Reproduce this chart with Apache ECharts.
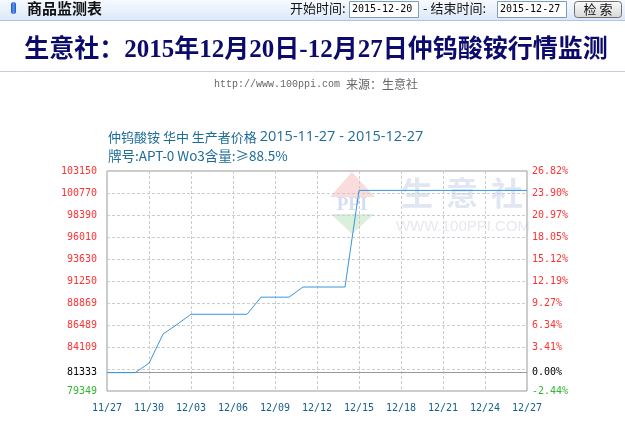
<!DOCTYPE html>
<html>
<head>
<meta charset="utf-8">
<script src="https://cdn.jsdelivr.net/npm/echarts@6/dist/echarts.min.js"></script>
<style>
html,body{margin:0;padding:0;background:#fff;}
#chart{width:625px;height:425px;}
</style>
</head>
<body>
<div id="chart"></div>
<script>
// ---- data ----
const dates = ['11/27','11/28','11/29','11/30','12/01','12/02','12/03','12/04','12/05','12/06','12/07',
  '12/08','12/09','12/10','12/11','12/12','12/13','12/14','12/15','12/16','12/17','12/18','12/19',
  '12/20','12/21','12/22','12/23','12/24','12/25','12/26','12/27'];
const prices = [81333,81333,81333,82350,85500,86550,87650,87650,87650,87650,87650,
  89500,89500,89500,90600,90600,90600,90600,101050,101050,101050,101050,101050,
  101050,101050,101050,101050,101050,101050,101050,101050];
const baseValue = 81333;
const yMin = 79349;
const yMax = 103150;
const yLabelValues = [79349,81333,84109,86489,88869,91250,93630,96010,98390,100770,103150];
const pctLabels = ['-2.44%','0.00%','3.41%','6.34%','9.27%','12.19%','15.12%','18.05%','20.97%','23.90%','26.82%'];
const yGridValues = [81729.1,84109,86489,88869,91250,93630,96010,98390,100770];

const chart = echarts.init(document.getElementById('chart'), null, {renderer:'canvas'});

function labelColor(v){
  v = Number(v);
  if (v > baseValue) return '#ff3333';
  if (v < baseValue) return '#33b533';
  return '#000000';
}

const monoFont = "'DejaVu Sans Mono', monospace";

const subRich = {
  c:{fontFamily:"'Noto Sans CJK SC'", fontSize:13, fill:'#1d6b9a', lineHeight:18, verticalAlign:'middle'},
  l:{fontFamily:"'Open Sans', 'Noto Sans CJK SC'", fontSize:14.5, fill:'#1d6b9a', lineHeight:18, verticalAlign:'middle'}
};

const option = {
  animation: false,
  backgroundColor: '#ffffff',
  grid: {left:107, top:171, width:420, height:220, show:true, borderColor:'#999999', borderWidth:1, backgroundColor:'transparent'},
  xAxis: {
    type:'category', data: dates, boundaryGap:false,
    axisLine:{show:false}, axisTick:{show:false},
    axisLabel:{interval:2, margin:12, color:'#14608f', fontSize:10, fontFamily:monoFont},
    splitLine:{show:true, interval:2, lineStyle:{color:'#cccccc', type:[3,2], width:1}}
  },
  yAxis: [
    {
      type:'value', min:yMin, max:yMax, position:'left',
      axisLine:{show:false}, axisTick:{show:false, customValues: yLabelValues}, splitLine:{show:false},
      axisLabel:{customValues: yLabelValues, margin:10, fontSize:10, fontFamily:monoFont,
        color: labelColor, formatter: v => String(v)}
    },
    {
      type:'value', min:yMin, max:yMax, position:'right',
      axisLine:{show:false}, axisTick:{show:false, customValues: yLabelValues}, splitLine:{show:false},
      axisLabel:{customValues: yLabelValues, margin:5, fontSize:10, fontFamily:monoFont,
        color: labelColor,
        formatter: v => { const i = yLabelValues.indexOf(Number(v)); return i >= 0 ? pctLabels[i] : ''; }}
    }
  ],
  series: [
    {
      type:'line', data: prices, symbol:'none', silent:true,
      lineStyle:{opacity:0}, z:1,
      markLine:{
        silent:true, symbol:['none','none'], label:{show:false}, animation:false, z:1,
        data: yGridValues.map(v => ({yAxis:v, lineStyle:{color:'#cccccc', type:[3,2], width:1}}))
          .concat([{yAxis: baseValue, lineStyle:{color:'#999999', type:'solid', width:1}}])
      }
    },
    {
      type:'line', data: prices, symbol:'none', silent:true, z:10,
      lineStyle:{color:'#3a96dc', width:1}
    }
  ],
  graphic: [
    // header bar
    {type:'rect', shape:{x:0,y:0,width:625,height:20}, z:-2,
      style:{fill:new echarts.graphic.LinearGradient(0,0,0,1,[{offset:0,color:'#f7faff'},{offset:1,color:'#dce8f8'}])}},
    {type:'line', shape:{x1:0,y1:20.5,x2:625,y2:20.5}, style:{stroke:'#a9c4ef', lineWidth:1}},
    {type:'rect', shape:{x:11,y:2,width:5,height:12,r:2.5},
      style:{fill:new echarts.graphic.LinearGradient(0,0,1,0,[{offset:0,color:'#1d57c8'},{offset:0.5,color:'#5b93ee'},{offset:1,color:'#1d57c8'}])}},
    {type:'text', x:27, y:8, style:{text:'商品监测表', font:"bold 15px 'Noto Sans CJK SC'", fill:'#111111', verticalAlign:'middle'}},
    {type:'text', x:290, y:8, style:{text:'开始时间:', font:"13px 'Noto Sans CJK SC'", fill:'#111111', verticalAlign:'middle'}},
    {type:'rect', shape:{x:349.5,y:1.5,width:69,height:16}, style:{fill:'#ffffff', stroke:'#7f9db9', lineWidth:1}},
    {type:'text', x:352, y:9.5, style:{text:'2015-12-20', font:"10px 'DejaVu Sans Mono'", fill:'#000000', verticalAlign:'middle'}},
    {type:'text', x:423, y:8, style:{text:'- 结束时间:', font:"13px 'Noto Sans CJK SC'", fill:'#111111', verticalAlign:'middle'}},
    {type:'rect', shape:{x:497.5,y:1.5,width:69,height:16}, style:{fill:'#ffffff', stroke:'#7f9db9', lineWidth:1}},
    {type:'text', x:500, y:9.5, style:{text:'2015-12-27', font:"10px 'DejaVu Sans Mono'", fill:'#000000', verticalAlign:'middle'}},
    {type:'rect', shape:{x:574.5,y:1.5,width:47,height:16,r:3},
      style:{fill:new echarts.graphic.LinearGradient(0,0,0,1,[{offset:0,color:'#fbfbfb'},{offset:1,color:'#d8d8d8'}]), stroke:'#707070', lineWidth:1}},
    {type:'text', x:598, y:9.5, style:{text:'检 索', font:"13px 'Noto Sans CJK SC'", fill:'#111111', align:'center', verticalAlign:'middle'}},
    // main title
    {type:'text', x:316, y:51, style:{text:'生意社：2015年12月20日-12月27日仲钨酸铵行情监测',
      font:"bold 25px 'Liberation Serif', 'Noto Sans CJK SC'", fill:'#0c0a6a', align:'center', verticalAlign:'middle'}},
    {type:'line', shape:{x1:0,y1:71.5,x2:625,y2:71.5}, style:{stroke:'#c5cedb', lineWidth:1}},
    {type:'text', x:316, y:84.5, style:{text:'{a|http://www.100ppi.com }{b|来源：生意社}', align:'center', verticalAlign:'middle',
      rich:{a:{fontFamily:"'Liberation Mono'", fontSize:10, fill:'#666666'},
            b:{fontFamily:"'Noto Sans CJK SC'", fontSize:12, fill:'#666666'}}}},
    // subtitle
    {type:'text', x:108, y:137, style:{text:'{c|仲钨酸铵 华中 生产者价格 }{l|2015-11-27 - 2015-12-27}', verticalAlign:'middle', rich:subRich}},
    {type:'text', x:108, y:156, style:{text:'牌号:APT-0 Wo3含量:≥88.5%', font:"13.5px 'Noto Sans CJK SC'", fill:'#1d6b9a', verticalAlign:'middle'}},
    // watermark
    {type:'polygon', z:-1, shape:{points:[[330,197],[352,172],[375,197]]}, style:{fill:'#fadcdc'}},
    {type:'text', z:-1, x:352, y:205, style:{text:'PPI', font:"bold 19px 'Liberation Serif'", fill:'#d5def0', align:'center', verticalAlign:'middle'}},
    {type:'polygon', z:-1, shape:{points:[[331,214],[374,214],[352,234]]}, style:{fill:'#dbefdd'}},
    {type:'text', z:-1, x:417, y:193, style:{text:'生', font:"bold 32px 'Noto Sans CJK SC'", fill:'#e1e7f2', align:'center', verticalAlign:'middle'}},
    {type:'text', z:-1, x:462, y:193, style:{text:'意', font:"bold 32px 'Noto Sans CJK SC'", fill:'#e1e7f2', align:'center', verticalAlign:'middle'}},
    {type:'text', z:-1, x:507, y:193, style:{text:'社', font:"bold 32px 'Noto Sans CJK SC'", fill:'#e1e7f2', align:'center', verticalAlign:'middle'}},
    {type:'text', z:-1, x:463, y:227, style:{text:'WWW.100PPI.COM', font:"15px 'Liberation Sans'", fill:'#e6e9ef', align:'center', verticalAlign:'middle'}}
  ]
};
chart.setOption(option);
</script>
</body>
</html>
